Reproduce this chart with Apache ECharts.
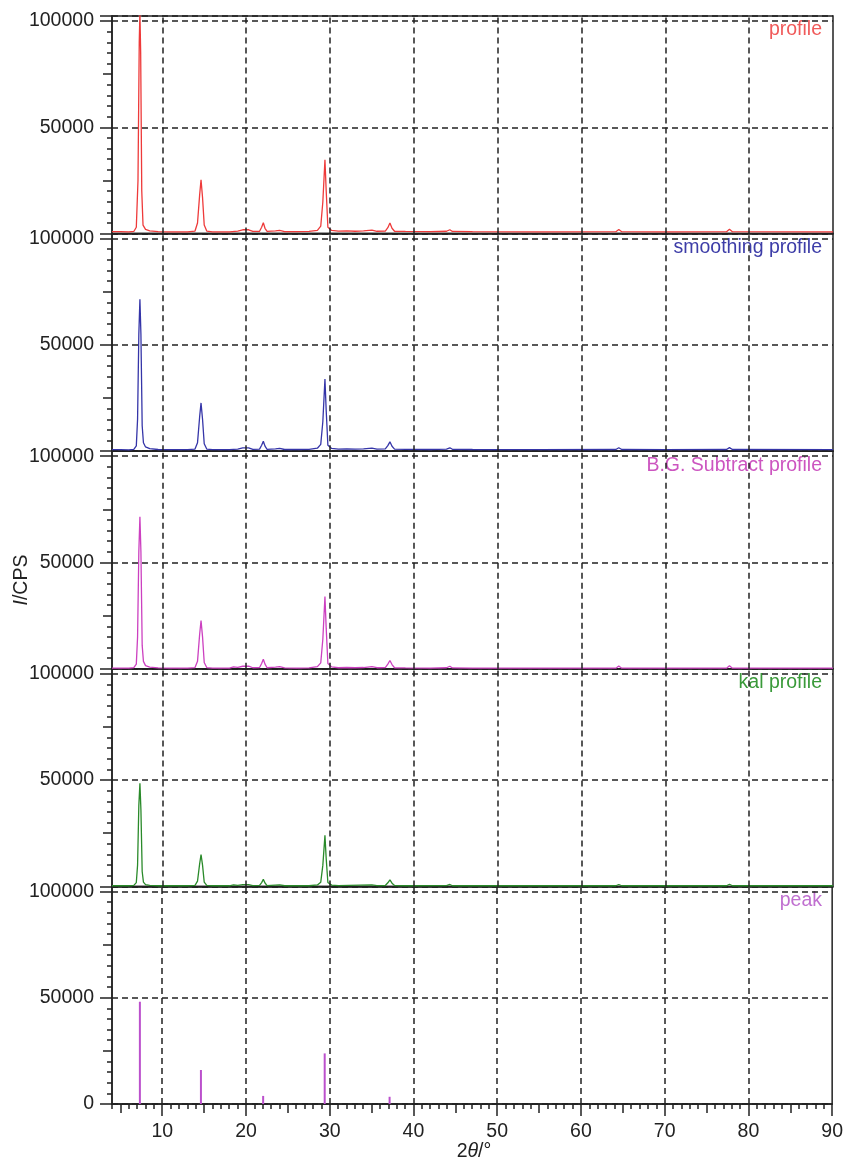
<!DOCTYPE html>
<html>
<head>
<meta charset="utf-8">
<script src="https://cdn.jsdelivr.net/npm/echarts@6/dist/echarts.min.js"></script>
<style>
  html, body { margin: 0; padding: 0; background: #fff; }
  #chart { width: 846px; height: 1169px; }
</style>
</head>
<body>
<div id="chart"></div>
<script>
// 2θ / intensity pairs
var profile = [[4,900],[5,900],[6,850],[6.6,1000],[6.9,3000],[7.1,25000],[7.25,90000],[7.33,104000],[7.42,85000],[7.55,20000],[7.7,4000],[8.0,2000],[8.5,1300],[9.5,900],[11,800],[13,800],[13.9,1200],[14.2,5000],[14.45,18000],[14.62,25300],[14.8,17000],[15.0,4000],[15.3,1200],[16,800],[18,800],[19,1200],[19.6,1800],[20.3,1800],[20.8,1000],[21.6,1100],[21.85,3000],[22.05,5100],[22.25,2500],[22.5,1000],[23.5,1300],[24,1500],[24.6,900],[26,900],[27.5,1000],[28.5,1500],[28.9,3500],[29.15,15000],[29.4,34700],[29.55,20000],[29.75,3000],[30.2,1500],[31,1200],[32,1300],[33,1100],[34,1300],[35,1600],[35.6,1100],[36.6,1200],[36.9,2800],[37.15,5000],[37.4,2500],[37.7,1100],[39,1000],[42,900],[43.9,1100],[44.3,1800],[44.6,1000],[47,900],[55,850],[64.1,900],[64.45,1900],[64.8,900],[70,850],[77.3,900],[77.65,2000],[78,900],[90,850]];
var smoothing = [[4,700],[5,700],[6,650],[6.6,900],[6.9,2500],[7.05,15000],[7.2,55000],[7.33,71500],[7.45,55000],[7.6,12000],[7.75,4000],[8.0,2000],[8.5,1200],[9.5,800],[11,700],[13,700],[13.9,1000],[14.2,4000],[14.45,16000],[14.62,22700],[14.8,15000],[15.0,3500],[15.3,1000],[16,700],[18,700],[19,1000],[19.6,1600],[20.3,1600],[20.8,900],[21.6,1000],[21.85,2800],[22.05,4700],[22.25,2400],[22.5,900],[23.5,1100],[24,1300],[24.6,800],[26,800],[27.5,900],[28.5,1400],[28.9,3200],[29.15,14000],[29.4,34000],[29.55,19000],[29.75,2800],[30.2,1300],[31,1000],[32,1100],[33,1000],[34,1100],[35,1400],[35.6,1000],[36.6,1100],[36.9,2600],[37.15,4400],[37.4,2300],[37.7,1000],[39,900],[42,800],[43.9,1000],[44.3,1600],[44.6,900],[47,800],[55,750],[64.1,800],[64.45,1600],[64.8,800],[70,750],[77.3,800],[77.65,1700],[78,800],[90,750]];
var bgSubtract = [[4,300],[6,300],[6.6,600],[6.9,2200],[7.05,15000],[7.2,55000],[7.33,71500],[7.45,55000],[7.6,11000],[7.75,3500],[8.0,1500],[8.5,800],[9.5,400],[11,300],[13,300],[13.9,600],[14.2,3500],[14.45,16000],[14.62,22700],[14.8,15000],[15.0,3000],[15.3,600],[16,300],[18,300],[18.5,900],[19,700],[19.6,1200],[20.3,1300],[20.8,500],[21.6,600],[21.85,2500],[22.05,4500],[22.25,2200],[22.5,500],[23.5,800],[24,1000],[24.6,400],[26,300],[27.5,400],[28.5,1000],[28.9,2800],[29.15,14000],[29.4,34000],[29.55,19000],[29.75,2500],[30.2,900],[31,500],[32,600],[33,500],[34,600],[35,1000],[35.6,500],[36.6,600],[36.9,2200],[37.15,3900],[37.4,2000],[37.7,500],[39,400],[42,300],[43.9,500],[44.3,1200],[44.6,400],[47,300],[55,300],[64.1,300],[64.45,1300],[64.8,300],[70,300],[77.3,300],[77.65,1400],[78,300],[90,300]];
var ka1 = [[4,300],[6,300],[6.6,500],[6.9,1800],[7.05,10000],[7.2,38000],[7.33,48500],[7.45,36000],[7.6,7000],[7.75,2000],[8.0,800],[8.5,500],[9.5,300],[13,300],[13.9,500],[14.2,2500],[14.45,10500],[14.62,15000],[14.8,10000],[15.0,2000],[15.3,500],[16,300],[18,300],[18.5,700],[19,500],[19.6,800],[20.3,800],[20.8,400],[21.6,500],[21.85,1800],[22.05,3300],[22.25,1600],[22.5,400],[23.5,600],[24,700],[24.6,300],[27.5,300],[28.5,700],[28.9,2000],[29.15,10000],[29.4,24000],[29.55,13000],[29.75,1800],[30.2,600],[31,400],[35,700],[35.6,400],[36.6,400],[36.9,1700],[37.15,3100],[37.4,1500],[37.7,400],[39,300],[43.9,400],[44.3,900],[44.6,300],[64.1,300],[64.45,900],[64.8,300],[77.3,300],[77.65,1000],[78,300],[90,300]];
var peaks = [[7.33,48100],[14.62,16000],[22.05,3800],[29.4,23800],[37.15,3400]];

var panelNames = ['profile', 'smoothing profile', 'B.G. Subtract profile', 'kal profile', 'peak'];
var panelColors = ['#ee3a3a', '#3535a8', '#cc40c0', '#2a8a2a', '#bb50cc'];
var nameColors = ['#f05a5a', '#3d3da8', '#cc55c0', '#3a9a3a', '#c070d0'];
var xLabelValues = [10, 20, 30, 40, 50, 60, 70, 80, 90];
var xFiveValues = [5, 15, 25, 35, 45, 55, 65, 75, 85];
var xGridValues = [10, 20, 30, 40, 50, 60, 70, 80];

var FONT = 'Liberation Sans, Arial, Helvetica, sans-serif';
var INK = '#222';
var top0 = 16, panelH = 217.6, yMax = 102350;

function dash () { return { type: [6, 4], color: INK, width: 1.5 } }
function solid () { return { color: INK, width: 1.5 } }
function richXY () {
  return {
    i: { fontStyle: 'italic', fontSize: 19.5, fontFamily: FONT, fill: INK },
    n: { fontSize: 19.5, fontFamily: FONT, fill: INK }
  }
}
function yLabel (isLast) {
  return function (v) {
    if (v % 50000 !== 0) return '';
    if (v === 0 && !isLast) return '';
    return String(v);
  }
}

var chart = echarts.init(document.getElementById('chart'));
var grids = [], xAxes = [], yAxes = [], series = [], graphics = [];
var panelData = [profile, smoothing, bgSubtract, ka1, peaks];

for (var i = 0; i < 5; i++) {
  var last = i === 4;
  var panelTop = top0 + panelH * i;
  grids.push({ left: 112, right: 13, top: panelTop, height: panelH, show: true, borderColor: INK, borderWidth: 1.5 });

  var xi = xAxes.length;
  xAxes.push({
    gridIndex: i, type: 'value', position: 'bottom', min: 4, max: 90,
    axisLine: { show: true, lineStyle: solid() },
    axisTick: last ? { show: true, customValues: xLabelValues.slice(), length: 12, lineStyle: solid() } : { show: false },
    axisLabel: last ? { show: true, customValues: xLabelValues.slice(), margin: 18, color: INK, fontSize: 19.5, fontFamily: FONT } : { show: false },
    splitLine: { show: false }
  });
  if (last) {
    // 1° minor ticks and 5° mid ticks
    xAxes.push({
      gridIndex: i, type: 'value', position: 'bottom', min: 4, max: 90, interval: 1,
      axisLine: { show: false },
      axisTick: { show: true, length: 5, lineStyle: solid() },
      axisLabel: { show: false }, splitLine: { show: false }
    });
    xAxes.push({
      gridIndex: i, type: 'value', position: 'bottom', min: 4, max: 90,
      axisLine: { show: false },
      axisTick: { show: true, customValues: xFiveValues.slice(), length: 9, lineStyle: solid() },
      axisLabel: { show: false }, splitLine: { show: false }
    });
  }

  var yi = yAxes.length;
  yAxes.push({
    gridIndex: i, type: 'value', position: 'left', min: 0, max: yMax, interval: 50000,
    axisLine: { show: true, lineStyle: solid() },
    axisTick: { show: true, length: 12, lineStyle: solid() },
    axisLabel: { show: true, margin: 18, color: INK, fontSize: 19.5, fontFamily: FONT, formatter: yLabel(last) },
    splitLine: { show: true, lineStyle: dash() }
  });
  yAxes.push({
    gridIndex: i, type: 'value', position: 'left', min: 0, max: yMax, interval: 25000,
    axisLine: { show: false },
    axisTick: { show: true, length: 9, lineStyle: solid() },
    axisLabel: { show: false }, splitLine: { show: false }
  });
  yAxes.push({
    gridIndex: i, type: 'value', position: 'left', min: 0, max: yMax, interval: 5000,
    axisLine: { show: false },
    axisTick: { show: true, length: 5, lineStyle: solid() },
    axisLabel: { show: false }, splitLine: { show: false }
  });

  // vertical dashed grid lines
  var vLines = {
    silent: true, symbol: ['none', 'none'], label: { show: false },
    lineStyle: dash(),
    data: xGridValues.map(function (v) { return { xAxis: v } })
  };

  if (last) {
    series.push({
      type: 'bar', xAxisIndex: xi, yAxisIndex: yi, data: panelData[i],
      barWidth: 2, itemStyle: { color: panelColors[i] }, markLine: vLines
    });
  } else {
    series.push({
      type: 'line', xAxisIndex: xi, yAxisIndex: yi, data: panelData[i],
      showSymbol: false, lineStyle: { color: panelColors[i], width: 1.3 },
      itemStyle: { color: panelColors[i] }, markLine: vLines
    });
  }

  graphics.push({
    type: 'text', x: 822, y: panelTop + 14,
    style: { text: panelNames[i], fill: nameColors[i], font: '19.5px ' + FONT, align: 'right', verticalAlign: 'middle' }
  });
}

graphics.push({
  type: 'text', x: 22, y: 580, rotation: Math.PI / 2,
  style: { text: '{i|I}{n|/CPS}', align: 'center', verticalAlign: 'middle', rich: richXY() }
});
graphics.push({
  type: 'text', x: 474, y: 1152,
  style: { text: '{n|2}{i|θ}{n|/°}', align: 'center', verticalAlign: 'middle', rich: richXY() }
});

chart.setOption({
  animation: false,
  grid: grids,
  xAxis: xAxes,
  yAxis: yAxes,
  series: series,
  graphic: graphics
});
</script>
</body>
</html>
